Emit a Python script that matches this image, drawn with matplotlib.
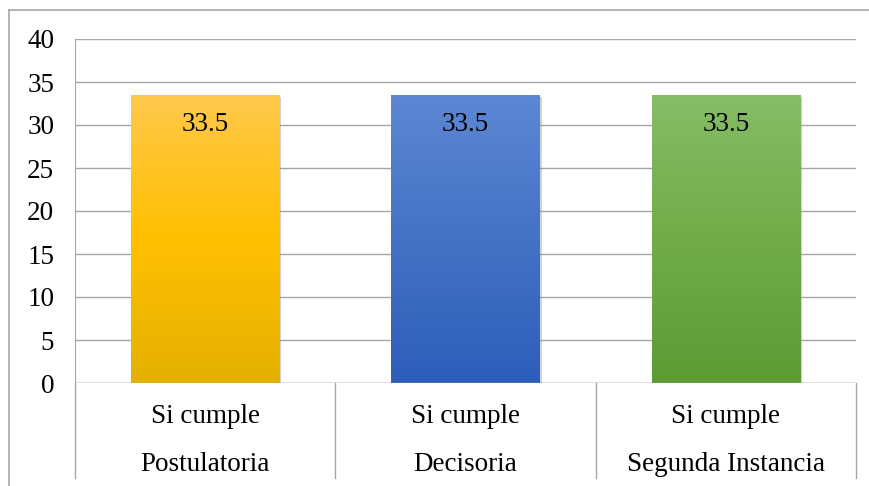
import numpy as np
import matplotlib
matplotlib.use("Agg")
import matplotlib.pyplot as plt
from matplotlib.colors import LinearSegmentedColormap
from matplotlib.patches import Rectangle
from matplotlib.lines import Line2D
import matplotlib.patheffects as pe

# ---------------------------
# Data
# ---------------------------
row1_labels = ["Si cumple", "Si cumple", "Si cumple"]
row2_labels = ["Postulatoria", "Decisoria", "Segunda Instancia"]
values = [33.5, 33.5, 33.5]
value_labels = ["33.5", "33.5", "33.5"]

# gradient stops (top, middle, bottom) for each bar
bar_gradients = [
    ["#FFC84C", "#FFC000", "#E4B000"],
    ["#5D87D4", "#4472C4", "#2D5EBC"],
    ["#86BD67", "#70AD47", "#5C9C33"],
]

y_ticks = [0, 5, 10, 15, 20, 25, 30, 35, 40]

plt.rcParams['font.family'] = ['Liberation Serif', 'DejaVu Serif']
plt.rcParams['font.size'] = 19.5

W, H = 870, 486
fig = plt.figure(figsize=(W / 100, H / 100), dpi=100)
ax = fig.add_axes([75 / W, 103 / H, (856 - 75) / W, (383 - 39) / H])

grid_col = "#A6A6A6"
x = np.arange(len(values))
bars = ax.bar(x, values, width=0.57, color="none", zorder=3)

# gradient fill + soft shadow for each bar
for bar, stops in zip(bars, bar_gradients):
    cmap = LinearSegmentedColormap.from_list("g", stops[::-1])
    bx, by = bar.get_x(), bar.get_y()
    bw, bh = bar.get_width(), bar.get_height()
    shadow = Rectangle((bx, by), bw, bh, facecolor="white", edgecolor="none", zorder=2.5)
    shadow.set_path_effects([pe.SimplePatchShadow(offset=(1.5, -1.5), shadow_rgbFace="#808080", alpha=0.35)])
    ax.add_patch(shadow)
    grad = np.linspace(0, 1, 256).reshape(-1, 1)
    im = ax.imshow(grad, cmap=cmap, origin="lower", aspect="auto",
                   extent=(bx, bx + bw, by, by + bh), zorder=3)
    im.set_clip_path(bar)

# value labels inside the top of the bars
for xi, v, lab in zip(x, values, value_labels):
    ax.annotate(lab, xy=(xi, v), xytext=(0, -21), textcoords="offset points",
                ha="center", va="center", zorder=5)

ax.set_xlim(-0.5, len(values) - 0.5)
ax.set_ylim(0, 40)
ax.set_yticks(y_ticks)
ax.tick_params(axis="y", length=0, pad=15)
ax.set_xticks([])
ax.yaxis.grid(True, color=grid_col, linewidth=1)
ax.set_axisbelow(True)
for side in ["top", "right", "bottom"]:
    ax.spines[side].set_visible(False)
ax.spines["left"].set_color(grid_col)
ax.axhline(0, color=grid_col, linewidth=1, zorder=4)

# two-level category axis
trans = ax.get_xaxis_transform()
for xi, l1, l2 in zip(x, row1_labels, row2_labels):
    ax.text(xi, -0.096, l1, transform=trans, ha="center", va="center")
    ax.text(xi, -0.236, l2, transform=trans, ha="center", va="center")
for xs in np.arange(len(values) + 1) - 0.5:
    ax.plot([xs, xs], [0, -0.276], transform=trans, color=grid_col,
            linewidth=1, clip_on=False)

# outer chart border: only top and left edges are inside the image
fx0, fy0 = 9 / W, 1 - 10 / H
fig.add_artist(Line2D([fx0, 1.0], [fy0, fy0], transform=fig.transFigure,
                      color=grid_col, linewidth=1.2))
fig.add_artist(Line2D([fx0, fx0], [0.0, fy0], transform=fig.transFigure,
                      color=grid_col, linewidth=1.2))

fig.savefig("out.png", dpi=100)
